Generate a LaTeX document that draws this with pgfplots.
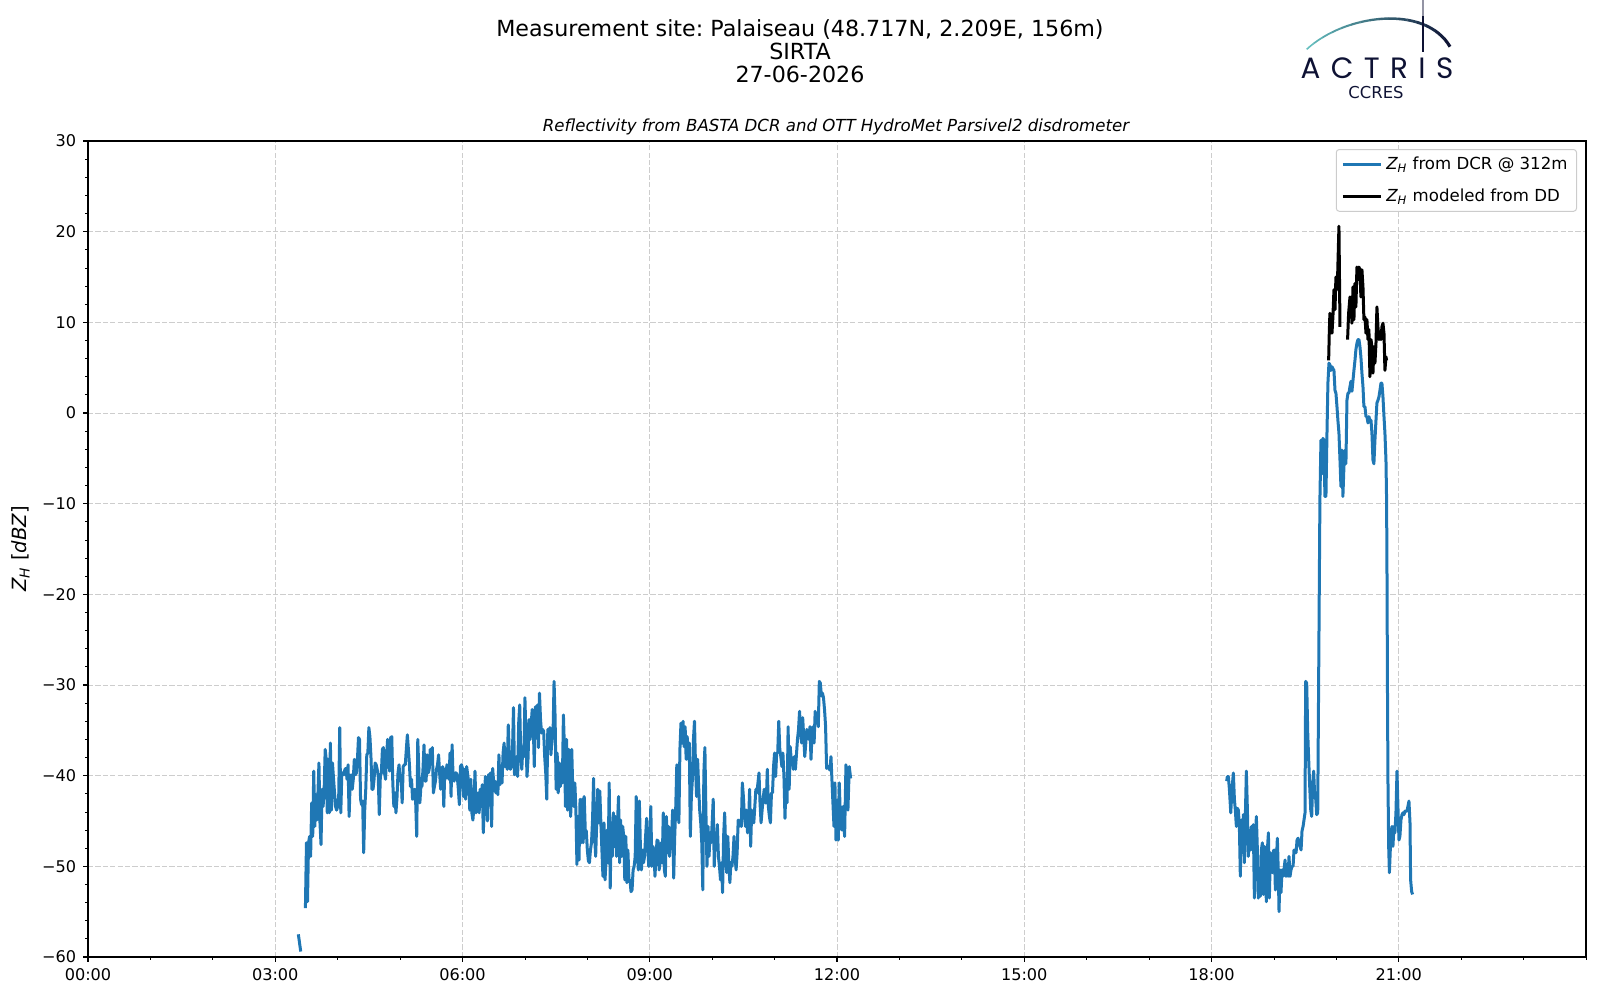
\documentclass[border=0pt]{standalone}
\usepackage{fontspec}
\setmainfont{DejaVu Sans}
\newfontfamily\logofont{Poppins}
\usepackage{pgfplots}
\pgfplotsset{compat=1.18}
\frenchspacing
\definecolor{mplblue}{RGB}{31,119,180}
\definecolor{logonavy}{RGB}{14,18,52}
\definecolor{logoteal}{RGB}{100,190,190}
\definecolor{gridgray}{RGB}{205,205,205}
\definecolor{leggray}{RGB}{204,204,204}
\begin{document}
\frenchspacing
\begin{tikzpicture}[x=1pt,y=1pt]
\useasboundingbox (0,0) rectangle (800,500);
% titles
\node[font=\fontsize{11.1}{13}\selectfont, anchor=base] at (400,481.5) {Measurement site: Palaiseau (48.717N, 2.209E, 156m)};
\node[font=\fontsize{11.1}{13}\selectfont, anchor=base] at (400,470) {SIRTA};
\node[font=\fontsize{11.1}{13}\selectfont, anchor=base] at (400,458.5) {27-06-2026};
\node[font=\fontsize{8.3}{9.5}\selectfont\itshape, anchor=base] at (418,434.3) {Reflectivity from BASTA DCR and OTT HydroMet Parsivel2 disdrometer};
% logo
\foreach \i in {0,...,15} {
  \pgfmathsetmacro{\xa}{652+\i*4.7}
  \pgfmathsetmacro{\xb}{\xa+4.8}
  \pgfmathsetmacro{\mix}{100-\i*6.6}
  \pgfmathsetmacro{\lw}{0.8+\i*0.05}
  \begin{scope}
    \clip (\xa,465) rectangle (\xb,500);
    \draw[color=logoteal!\mix!logonavy, line width=\lw pt] (653.35,475.35) .. controls (672.5,493) and (712.5,498) .. (725,476.65);
  \end{scope}
}
\draw[logonavy, line width=1.2pt] (711.5,474) -- (711.5,492);
\draw[logonavy!45, line width=1.2pt] (711.5,492) -- (711.5,500);
\node[font=\logofont\fontsize{14.7}{16}\selectfont, text=logonavy, anchor=base, inner sep=0pt] at (688.5,460.75) {A\hspace{5.2pt}C\hspace{5.2pt}T\hspace{5.2pt}R\hspace{5.2pt}I\hspace{5.2pt}S};
\node[font=\fontsize{8.2}{9}\selectfont, text=logonavy, anchor=base, inner sep=0pt] at (688,450.5) {CCRES};
\begin{axis}[
  at={(44pt,21.5pt)}, anchor=south west,
  width=749pt, height=408pt, scale only axis,
  xmin=0, xmax=1440, ymin=-60, ymax=30,
  xtick={0,180,...,1260},
  xticklabels={00:00,03:00,06:00,09:00,12:00,15:00,18:00,21:00},
  minor xtick={60,120,...,1440},
  ytick={-60,-50,...,30},
  yticklabels={−60,−50,−40,−30,−20,−10,0,10,20,30},
  minor ytick={-58,-56,...,30},
  xtick pos=bottom, ytick pos=left,
  tick align=outside,
  major tick length=2.45pt, minor tick length=1.4pt,
  every major tick/.style={black, line width=0.55pt},
  every minor tick/.style={black, line width=0.42pt},
  axis line style={line width=0.55pt},
  grid=major,
  major grid style={gridgray, line width=0.4pt, dash pattern=on 2.6pt off 1.1pt},
  tick label style={font=\fontsize{8.05}{9.5}\selectfont},
  ylabel={{\itshape Z}\textsubscript{\itshape H} [{\itshape dBZ}]},
  every axis y label/.style={at={(axis description cs:-0.045,0.5)}, rotate=90, anchor=center, font=\fontsize{9.8}{11}\selectfont},
  legend style={at={(1,1)}, anchor=north east, xshift=-4.5pt, yshift=-4pt, draw=leggray, line width=0.5pt, rounded corners=1.5pt, font=\fontsize{8.3}{9.5}\selectfont, inner xsep=2.5pt, inner ysep=1.5pt, row sep=4.3pt, cells={anchor=west}},
  legend image code/.code={\draw[#1] (0pt,0pt) -- (19pt,0pt);},
]
\addplot[mplblue, line width=1.5pt, line join=round] coordinates {
(209,-54.6)(210,-47.4)(211,-53.9)(212,-47.4)(213,-46.7)(214,-48.9)(215,-43.0)(216,-46.7)(217,-39.5)(218,-45.6)(219,-42.1)(220,-44.9)(221,-42.1)(222,-38.6)(223,-45.2)(224,-47.6)(225,-41.5)(226,-43.4)(227,-41.5)(228,-37.1)(229,-38.2)(230,-44.1)(231,-38.2)(232,-44.1)(233,-36.4)(234,-43.8)(235,-38.6)(236,-40.3)(237,-41.9)(238,-43.4)(239,-43.8)(240,-43.4)(241,-42.3)(242,-34.7)(243,-44.1)(244,-39.7)(245,-39.7)(246,-39.9)(247,-39.3)(248,-39.2)(249,-40.4)(250,-38.8)(251,-44.5)(252,-40.8)(253,-39.9)(254,-41.5)(255,-40.4)(256,-38.2)(257,-39.9)(258,-39.7)(259,-38.2)(260,-35.8)(261,-36.0)(262,-42.6)(263,-43.2)(264,-42.8)(265,-48.5)(266,-43.8)(267,-41.5)(268,-37.7)(269,-37.5)(270,-34.7)(271,-35.7)(272,-37.9)(273,-41.5)(274,-41.5)(275,-40.4)(276,-38.6)(277,-38.8)(278,-39.3)(279,-40.1)(280,-44.3)(281,-40.1)(282,-39.7)(283,-37.1)(284,-36.9)(285,-39.7)(286,-40.4)(287,-37.9)(288,-36.0)(289,-37.9)(290,-39.5)(291,-35.8)(292,-35.7)(293,-40.8)(294,-43.4)(295,-41.9)(296,-44.1)(297,-42.5)(298,-39.7)(299,-38.8)(300,-40.6)(301,-40.1)(302,-43.0)(303,-39.0)(304,-38.8)(305,-38.8)(306,-37.1)(307,-35.5)(308,-37.1)(309,-38.8)(310,-41.2)(311,-40.4)(312,-42.6)(313,-42.5)(314,-41.5)(315,-43.0)(316,-46.7)(317,-36.0)(318,-39.3)(319,-43.0)(320,-41.2)(321,-41.2)(322,-39.3)(323,-36.6)(324,-40.6)(325,-40.6)(326,-37.7)(327,-39.7)(328,-39.3)(329,-37.1)(330,-37.9)(331,-36.9)(332,-41.9)(333,-41.2)(334,-40.6)(335,-39.3)(336,-38.8)(337,-37.7)(338,-39.7)(339,-41.5)(340,-39.7)(341,-39.0)(342,-43.4)(343,-39.3)(344,-40.3)(345,-38.8)(346,-39.0)(347,-40.4)(348,-37.5)(349,-42.3)(350,-36.6)(351,-40.4)(352,-40.6)(353,-39.7)(354,-39.7)(355,-40.1)(356,-41.5)(357,-43.2)(358,-39.0)(359,-38.8)(360,-39.2)(361,-42.3)(362,-39.3)(363,-42.6)(364,-39.0)(365,-39.9)(366,-40.8)(367,-43.8)(368,-40.4)(369,-44.1)(370,-44.9)(371,-43.4)(372,-39.5)(373,-44.1)(374,-42.1)(375,-41.9)(376,-44.1)(377,-41.5)(378,-43.4)(379,-41.0)(380,-46.3)(381,-43.0)(382,-40.1)(383,-42.3)(384,-45.0)(385,-39.9)(386,-40.1)(387,-39.7)(388,-45.6)(389,-39.2)(390,-40.8)(391,-40.6)(392,-41.9)(393,-40.8)(394,-42.1)(395,-37.7)(396,-41.0)(397,-40.1)(398,-40.8)(399,-37.5)(400,-36.4)(401,-39.0)(402,-38.1)(403,-39.3)(404,-34.4)(405,-37.7)(406,-39.3)(407,-39.0)(408,-37.5)(409,-32.5)(410,-39.9)(411,-39.7)(412,-37.9)(413,-40.1)(414,-34.2)(415,-32.2)(416,-37.9)(417,-39.3)(418,-36.8)(419,-37.9)(420,-31.4)(421,-35.8)(422,-40.1)(423,-38.1)(424,-33.8)(425,-36.0)(426,-34.4)(427,-32.7)(428,-34.2)(429,-39.0)(430,-32.4)(431,-34.6)(432,-32.2)(433,-36.9)(434,-30.9)(435,-33.8)(436,-35.3)(437,-34.9)(438,-35.1)(439,-37.9)(440,-39.7)(441,-42.6)(442,-34.9)(443,-36.8)(444,-34.7)(445,-37.7)(446,-36.0)(447,-35.7)(448,-29.6)
(449,-33.5)(450,-41.5)(451,-37.5)(452,-41.9)(453,-38.6)(454,-41.2)(455,-39.0)(456,-40.8)(457,-33.3)(458,-37.1)(459,-43.4)(460,-36.0)(461,-43.8)(462,-37.1)(463,-42.6)(464,-44.5)(465,-37.1)(466,-41.5)(467,-43.4)(468,-40.8)(469,-43.8)(470,-49.8)(471,-44.5)(472,-49.3)(473,-42.6)(474,-47.4)(475,-42.6)(476,-47.4)(477,-42.3)(478,-46.0)(479,-46.1)(480,-48.2)(481,-49.4)(482,-49.6)(483,-48.2)(484,-47.4)(485,-44.9)(486,-40.3)(487,-46.7)(488,-48.9)(489,-45.2)(490,-41.5)(491,-45.2)(492,-41.7)(493,-45.2)(494,-48.2)(495,-51.1)(496,-45.2)(497,-51.5)(498,-49.3)(499,-46.0)(500,-49.6)(501,-40.8)(502,-52.4)(503,-45.2)(504,-48.9)(505,-44.1)(506,-47.8)(507,-44.5)(508,-48.9)(509,-45.2)(510,-42.3)(511,-49.6)(512,-44.9)(513,-48.9)(514,-45.6)(515,-46.7)(516,-51.5)(517,-46.7)(518,-51.8)(519,-48.2)(520,-51.5)(521,-51.5)(522,-52.8)(523,-52.6)(524,-50.4)(525,-50.0)(526,-48.9)(527,-42.3)(528,-48.2)(529,-50.4)(530,-42.8)(531,-47.8)(532,-50.4)(533,-48.2)(534,-49.6)(535,-48.9)(536,-46.7)(537,-44.7)(538,-47.4)(539,-50.0)(540,-48.5)(541,-43.4)(542,-50.0)(543,-47.8)(544,-48.2)(545,-51.1)(546,-48.9)(547,-47.1)(548,-47.2)(549,-50.4)(550,-49.6)(551,-47.4)(552,-49.6)(553,-44.1)(554,-50.4)(555,-51.1)(556,-44.5)(557,-48.5)(558,-45.6)(559,-48.9)(560,-47.4)(561,-46.7)(562,-43.8)(563,-51.3)(564,-46.7)(565,-43.4)(566,-38.8)(567,-43.4)(568,-45.2)(569,-37.1)(570,-34.2)(571,-36.4)(572,-34.0)(573,-36.8)(574,-34.6)(575,-38.2)(576,-35.7)(577,-38.2)(578,-36.4)(579,-46.7)(580,-42.3)(581,-40.4)(582,-36.0)(583,-34.0)(584,-39.0)(585,-42.3)(586,-38.2)(587,-41.2)(588,-43.8)(589,-45.2)(590,-47.4)(591,-52.6)(592,-39.7)(593,-36.9)(594,-44.1)(595,-50.0)(596,-45.6)(597,-48.9)(598,-46.3)(599,-47.4)(600,-45.2)(601,-42.6)(602,-50.0)(603,-46.3)(604,-48.2)(605,-45.4)(606,-48.9)(607,-50.0)(608,-51.5)(609,-49.6)(610,-52.9)(611,-46.7)(612,-44.1)(613,-48.2)(614,-50.7)(615,-46.7)(616,-49.6)(617,-51.8)(618,-49.6)(619,-50.0)(620,-48.9)(621,-46.7)(622,-48.9)(623,-50.4)(624,-48.5)(625,-44.9)(626,-45.6)(627,-44.9)(628,-45.6)(629,-40.8)(630,-42.3)(631,-44.5)(632,-45.6)(633,-43.8)(634,-46.3)(635,-45.2)(636,-41.5)(637,-47.8)(638,-43.8)(639,-44.9)(640,-45.2)(641,-43.4)(642,-41.5)(643,-41.9)(644,-40.8)(645,-39.7)(646,-43.0)(647,-45.2)(648,-43.8)(649,-42.6)(650,-41.5)(651,-43.0)(652,-43.0)(653,-39.3)(654,-43.4)(655,-44.5)(656,-45.2)(657,-41.9)(658,-41.9)(659,-39.0)(660,-37.5)(661,-40.1)(662,-37.5)(663,-37.5)(664,-34.0)(665,-37.1)(666,-37.9)(667,-39.0)(668,-37.5)(669,-40.1)(670,-44.7)(671,-40.4)(672,-43.0)(673,-34.6)(674,-41.5)(675,-36.8)(676,-38.2)(677,-38.2)(678,-39.3)(679,-37.9)(680,-39.3)(681,-37.7)(682,-36.0)(683,-34.9)(684,-32.9)(685,-35.3)(686,-36.4)(687,-33.6)(688,-35.7)(689,-37.9)(690,-36.4)(691,-34.9)(692,-35.7)(693,-36.0)(694,-34.6)(695,-38.2)(696,-35.3)(697,-34.6)(698,-36.4)(699,-32.9)(700,-34.2)(701,-33.1)(702,-34.6)(703,-29.6)(704,-29.8)(705,-31.2)(706,-30.9)(707,-31.4)(708,-32.7)(709,-34.5)(710,-39.2)(711.5,-39.0)(713.2,-39.4)(714.2,-37.9)(715.8,-42.3)(717.1,-45.6)(718.0,-40.8)(719.0,-47.1)(720.3,-42.7)(721.2,-47.1)(722.2,-40.8)(723.5,-45.6)(724.7,-46.0)(726.0,-43.4)(727.3,-46.7)(728.6,-38.8)(730.5,-43.8)(731.8,-39.0)(733.1,-40.3)
};
\addlegendentry{{\itshape Z}\textsubscript{\itshape H} from DCR @ 312m}
\addplot[mplblue, line width=1.5pt, forget plot] coordinates {(202.2,-57.5)(204.5,-59.4)};
\addplot[mplblue, line width=1.5pt, line join=round, forget plot] coordinates {
(1094.6,-40.6)(1095.2,-40.1)(1096.2,-40.1)(1097.2,-41.5)(1098.5,-44.1)(1099.7,-41.5)(1101.0,-39.7)(1102.0,-42.6)(1102.9,-43.8)(1103.9,-45.6)(1104.9,-43.6)(1105.8,-43.8)(1106.8,-45.6)(1107.7,-51.1)(1108.7,-44.9)(1109.7,-48.2)(1110.6,-44.3)(1111.6,-49.6)(1112.6,-44.1)(1113.5,-39.5)(1114.5,-43.8)(1115.4,-48.9)(1116.4,-46.3)(1117.4,-48.2)(1118.3,-45.6)(1119.3,-48.2)(1120.2,-45.4)(1121.2,-53.5)(1122.2,-47.4)(1123.1,-44.5)(1124.1,-48.2)(1125.0,-53.5)(1126.0,-51.8)(1127.0,-53.3)(1127.9,-48.2)(1128.9,-47.4)(1129.9,-53.1)(1130.8,-47.8)(1131.8,-49.6)(1132.7,-53.9)(1133.7,-48.2)(1134.7,-46.3)(1135.6,-53.5)(1136.6,-48.5)(1137.5,-50.4)(1138.5,-50.7)(1139.5,-48.3)(1140.4,-48.2)(1141.4,-52.6)(1142.3,-49.6)(1143.3,-46.9)(1144.3,-51.1)(1144.9,-55.0)(1145.9,-50.4)(1146.8,-52.9)(1147.8,-50.4)(1148.8,-51.1)(1149.7,-50.4)(1150.7,-49.3)(1151.6,-51.1)(1152.6,-50.0)(1153.6,-51.1)(1154.5,-48.9)(1155.5,-51.1)(1156.4,-50.4)(1157.4,-50.0)(1158.4,-50.0)(1159.3,-48.2)(1160.3,-48.2)(1161.3,-48.5)(1162.2,-47.1)(1163.2,-46.9)(1164.1,-47.4)(1165.1,-47.8)(1166.1,-48.2)(1167.0,-46.1)(1168.0,-45.6)(1168.9,-44.9)(1169.9,-44.1)(1170.5,-29.6)(1171.5,-29.8)(1172.5,-35.3)(1173.4,-38.2)(1174.4,-41.2)(1175.4,-43.8)(1176.3,-44.5)(1177.3,-40.8)(1178.2,-39.5)(1179.2,-42.3)(1180.2,-42.6)(1181.1,-44.3)(1182.1,-44.1)(1184.2,-9.6)(1185.2,-3.0)(1186.2,-6.7)(1187.1,-2.8)(1188.1,-3.0)(1189.0,-9.2)(1190.0,-9.2)(1191.0,-2.2)(1191.9,3.3)(1192.9,5.5)(1193.9,5.3)(1194.8,4.7)(1195.8,5.1)(1196.7,4.9)(1197.7,4.7)(1198.7,2.5)(1199.6,2.2)(1200.6,0.7)(1201.5,-0.8)(1202.5,-2.2)(1203.5,-5.2)(1204.4,-8.1)(1205.4,-4.1)(1206.3,-9.2)(1207.3,-5.9)(1208.3,-4.1)(1209.2,-5.6)(1210.2,1.4)(1211.2,2.2)(1212.1,2.2)(1213.1,2.9)(1214.0,3.5)(1215.0,2.4)(1216.0,3.6)(1216.9,4.7)(1217.9,5.8)(1218.8,7.0)(1219.8,7.7)(1220.8,8.1)(1221.7,8.1)(1222.7,7.3)(1223.6,6.2)(1224.6,4.4)(1225.6,2.9)(1226.5,0.7)(1227.5,0.7)(1228.5,-0.4)(1229.4,-0.4)(1230.4,-1.1)(1231.3,-0.4)(1232.3,-0.8)(1233.3,-0.8)(1234.2,-2.2)(1235.2,-5.2)(1236.1,-5.6)(1237.1,-3.0)(1238.1,-0.8)(1239.0,1.1)(1240.0,1.4)(1241.0,1.8)(1241.9,2.5)(1242.9,3.3)(1243.8,3.3)(1244.8,1.8)(1245.8,-0.4)(1246.7,-2.2)(1247.7,-5.2)(1248.3,-9.6)(1248.7,-18.0)(1249.1,-29.4)(1249.6,-40.4)(1250.3,-47.8)(1251.0,-50.7)(1252.5,-46.3)(1253.5,-45.6)(1254.4,-47.8)(1255.4,-45.6)(1256.3,-46.3)(1257.3,-44.1)(1258.3,-39.5)(1259.2,-43.4)(1260.2,-47.1)(1261.1,-46.7)(1262.1,-44.9)(1263.1,-44.3)(1264.0,-44.1)(1265.0,-44.3)(1266.0,-43.9)(1266.9,-43.9)(1267.9,-43.9)(1268.8,-43.4)(1269.8,-42.8)(1270.8,-45.2)(1271.4,-51.5)(1272.4,-52.8)(1273.3,-53.1)
};
\addplot[black, line width=1.5pt, line join=round] coordinates {
(1192.6,5.8)(1193.2,8.8)(1193.8,11.0)(1194.8,10.3)(1195.8,8.8)(1196.7,10.6)(1197.7,13.6)(1198.7,11.4)(1199.6,15.0)(1200.6,13.6)(1201.2,15.0)(1202.5,20.6)(1203.5,9.5)
};
\addlegendentry{{\itshape Z}\textsubscript{\itshape H} modeled from DD}
\addplot[black, line width=1.5pt, line join=round, forget plot] coordinates {
(1210.8,8.1)(1211.8,11.0)(1213.1,12.8)(1214.0,12.5)(1215.0,9.9)(1216.0,13.9)(1216.9,10.3)(1217.9,14.3)(1218.8,11.7)(1219.8,16.1)(1220.8,14.7)(1221.7,16.1)(1222.7,15.8)(1223.6,12.8)(1224.6,15.8)(1225.6,13.9)(1226.5,10.3)(1227.5,10.6)(1228.5,8.8)(1229.4,10.3)(1230.4,8.1)(1231.3,9.2)(1232.3,4.0)(1233.3,8.1)(1234.2,7.3)(1235.2,4.4)(1236.1,7.3)(1237.1,5.5)(1238.1,7.7)(1239.0,11.7)(1240.0,9.5)(1241.0,8.1)(1241.9,8.8)(1242.9,8.1)(1243.8,9.5)(1244.8,9.9)(1245.8,8.8)(1246.7,4.7)(1247.7,6.2)(1248.3,5.8)
};
\end{axis}
\end{tikzpicture}
\end{document}
